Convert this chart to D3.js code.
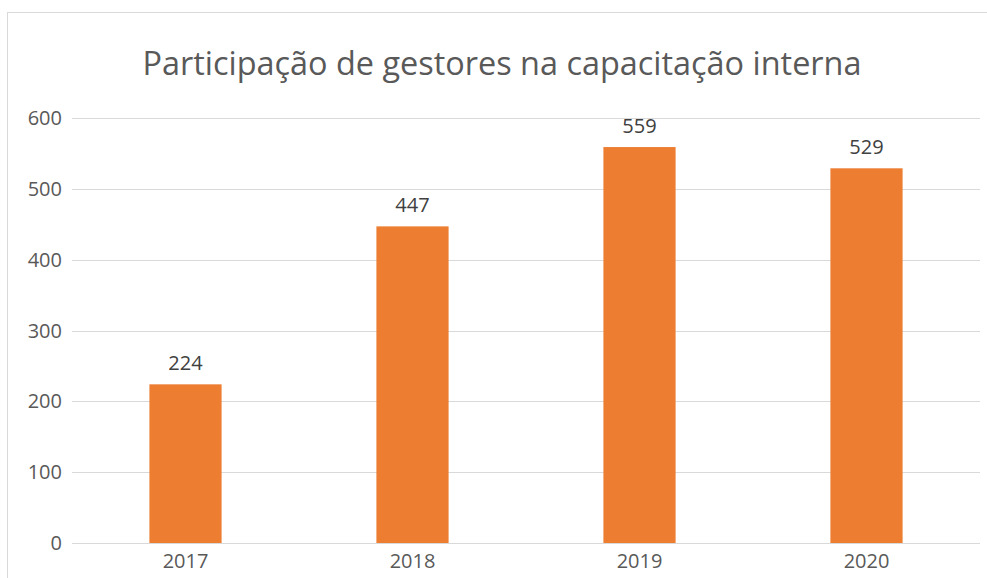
<!DOCTYPE html>
<html>
<head>
<meta charset="utf-8">
<script src="https://cdn.jsdelivr.net/npm/d3@7"></script>
<style>
  body { margin: 0; background: #fff; }
  text { font-family: "Open Sans", sans-serif; }
</style>
</head>
<body>
<svg width="987" height="578"></svg>
<script>
var years = ['2017', '2018', '2019', '2020'];
var values = [224, 447, 559, 529];
var yTicks = [0, 100, 200, 300, 400, 500, 600];
var title = 'Participação de gestores na capacitação interna';

var svg = d3.select('svg'),
    width = +svg.attr('width'),
    height = +svg.attr('height');

var margin = { left: 72, right: 7, top: 118, bottom: 35 };

// chart frame
svg.append('rect')
  .attr('x', 7.5).attr('y', 12.5)
  .attr('width', 990).attr('height', 600)
  .attr('fill', 'none').attr('stroke', '#d9d9d9');

var x = d3.scaleBand()
  .domain(years)
  .range([margin.left, width - margin.right])
  .paddingInner(0.682).paddingOuter(0.341);

var y = d3.scaleLinear()
  .domain([0, 600])
  .range([height - margin.bottom, margin.top]);

svg.append('g')
  .selectAll('line')
  .data(yTicks)
  .enter().append('line')
    .attr('x1', margin.left).attr('x2', width - margin.right)
    .attr('y1', d => Math.round(y(d)) + 0.5)
    .attr('y2', d => Math.round(y(d)) + 0.5)
    .attr('stroke', '#d9d9d9');

svg.append('g')
  .selectAll('text')
  .data(yTicks)
  .enter().append('text')
    .attr('x', 62).attr('y', d => y(d))
    .attr('dy', '0.35em')
    .attr('text-anchor', 'end')
    .attr('font-size', 20)
    .attr('fill', '#595959')
    .text(d => d);

svg.append('g')
  .selectAll('rect')
  .data(values)
  .enter().append('rect')
    .attr('x', (d, i) => x(years[i]))
    .attr('width', x.bandwidth())
    .attr('y', d => y(d))
    .attr('height', d => y(0) - y(d))
    .attr('fill', '#ed7d31');

svg.append('g')
  .selectAll('text')
  .data(values)
  .enter().append('text')
    .attr('x', (d, i) => x(years[i]) + x.bandwidth() / 2)
    .attr('y', d => y(d) - 14)
    .attr('text-anchor', 'middle')
    .attr('font-size', 20)
    .attr('fill', '#404040')
    .text(d => d);

svg.append('g')
  .selectAll('text')
  .data(years)
  .enter().append('text')
    .attr('x', d => x(d) + x.bandwidth() / 2)
    .attr('y', height - margin.bottom + 25)
    .attr('text-anchor', 'middle')
    .attr('font-size', 20)
    .attr('fill', '#595959')
    .text(d => d);

svg.append('text')
  .attr('x', 502).attr('y', 75)
  .attr('text-anchor', 'middle')
  .attr('font-size', 33)
  .attr('fill', '#595959')
  .attr('textLength', 719)
  .attr('lengthAdjust', 'spacingAndGlyphs')
  .text(title);
</script>
</body>
</html>
